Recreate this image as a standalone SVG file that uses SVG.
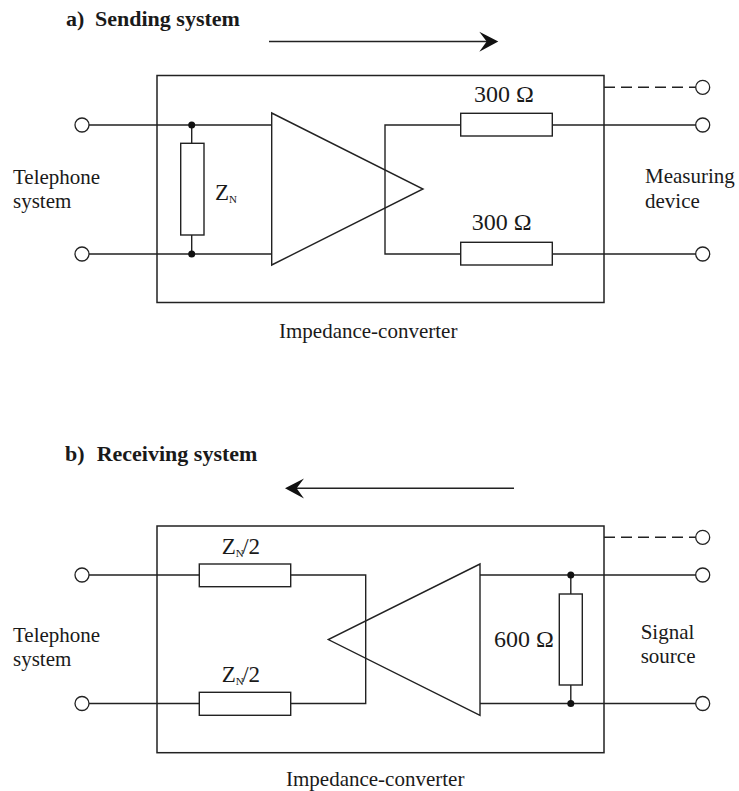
<svg xmlns="http://www.w3.org/2000/svg" width="739" height="791" viewBox="0 0 739 791">
<defs>
<style>
.w{fill:none;stroke:#222;stroke-width:1.4}
.box{fill:none;stroke:#222;stroke-width:1.5}
.res{fill:#fff;stroke:#222;stroke-width:1.4}
.term{fill:#fff;stroke:#222;stroke-width:1.3}
.dot{fill:#111}
.dash{fill:none;stroke:#222;stroke-width:1.4;stroke-dasharray:11 6}
.t{font-family:"Liberation Serif","Times New Roman",serif;font-size:21px;fill:#1a1a1a}
.v{font-family:"Liberation Serif","Times New Roman",serif;font-size:24px;fill:#1a1a1a}
.h{font-family:"Liberation Serif","Times New Roman",serif;font-size:22px;font-weight:bold;fill:#1a1a1a}
.ah{fill:#111}
</style>
</defs>
<rect width="739" height="791" fill="#fff"/>

<!-- Part a -->
<g id="title-a"><text class="h" x="66" y="26">a)</text><text class="h" x="95" y="26">Sending system</text></g>
<g id="box-a"><rect class="box" x="157" y="75.5" width="447" height="227"/></g>
<g id="amp-a"><polygon class="w" points="271.7,113 271.7,265 423,189"/></g>
<g id="zn-a"><rect class="res" x="180.7" y="143.3" width="23.3" height="91.7"/>
<text x="215" y="200" class="v" style="font-size:23px">Z<tspan dy="3" style="font-size:11px">N</tspan></text></g>
<g id="r300-top"><rect class="res" x="460.7" y="113.3" width="91.6" height="22.7"/><text class="v" x="474" y="101.7">300 Ω</text></g>
<g id="r300-bot"><rect class="res" x="460.7" y="242.3" width="91.6" height="22.7"/><text class="v" x="471.7" y="230.3">300 Ω</text></g>
<g id="terms-a-left"><circle class="term" cx="82" cy="125" r="7"/><circle class="term" cx="82" cy="254" r="7"/>
<text class="t" x="13" y="184">Telephone</text><text class="t" x="13" y="208">system</text></g>
<g id="terms-a-right"><circle class="term" cx="702.7" cy="87.3" r="7"/><circle class="term" cx="702.7" cy="125" r="7"/><circle class="term" cx="702.7" cy="254" r="7"/>
<text class="t" x="645" y="183.3">Measuring</text><text class="t" x="645" y="208.3">device</text></g>
<g id="label-a"><text class="t" x="279" y="338">Impedance-converter</text></g>

<!-- Part b -->
<g id="title-b"><text class="h" x="65" y="461">b)</text><text class="h" x="96.7" y="461">Receiving system</text></g>
<g id="box-b"><rect class="box" x="157" y="526" width="447" height="226.7"/></g>
<g id="amp-b"><polygon class="w" points="480,564 480,715.3 328.3,639.6"/></g>
<g id="zn2-top"><rect class="res" x="199.3" y="564" width="91.4" height="22.7"/>
<text x="221.7" y="553.5" class="v" style="font-size:23px">Z<tspan dy="3" style="font-size:11px">N</tspan><tspan dy="-3" dx="-1.5">/2</tspan></text></g>
<g id="zn2-bot"><rect class="res" x="199.3" y="692.3" width="91.4" height="23"/>
<text x="221.7" y="682" class="v" style="font-size:23px">Z<tspan dy="3" style="font-size:11px">N</tspan><tspan dy="-3" dx="-1.5">/2</tspan></text></g>
<g id="r600"><rect class="res" x="559.3" y="594" width="23" height="91"/><text class="v" x="494" y="646.7">600 Ω</text></g>
<g id="terms-b-left"><circle class="term" cx="82" cy="575" r="7"/><circle class="term" cx="82" cy="703.5" r="7"/>
<text class="t" x="13" y="642">Telephone</text><text class="t" x="13" y="666">system</text></g>
<g id="terms-b-right"><circle class="term" cx="702.7" cy="537.3" r="7"/><circle class="term" cx="702.7" cy="575" r="7"/><circle class="term" cx="702.7" cy="703.5" r="7"/>
<text class="t" x="640.7" y="639">Signal</text><text class="t" x="640.7" y="663">source</text></g>
<g id="label-b"><text class="t" x="286" y="786">Impedance-converter</text></g>

<!-- Connectors -->
<g id="connectors">
<!-- a -->
<path class="w" d="M269,41.5 H488"/>
<path class="ah" d="M498.3,41.5 L479.3,31.7 L486.7,41.5 L479.3,51.7 Z"/>
<path class="w" d="M89,125 H271.7 M89,254 H271.7"/>
<path class="w" d="M191.7,125 V143.3 M191.7,235 V254"/>
<circle class="dot" cx="191.7" cy="125" r="3.5"/><circle class="dot" cx="191.7" cy="254" r="3.5"/>
<path class="w" d="M460.7,125 H385 V254 H460.7"/>
<path class="w" d="M552.3,125 H695.7 M552.3,254 H695.7"/>
<path class="dash" d="M604,87.3 H695.7"/>
<!-- b -->
<path class="w" d="M295,488.3 H514"/>
<path class="ah" d="M285,488.3 L304,478.5 L296.6,488.3 L304,498.5 Z"/>
<path class="w" d="M89,575 H199.3 M89,703.5 H199.3"/>
<path class="w" d="M290.7,575 H365.7 V703.5 H290.7"/>
<path class="w" d="M480,575 H695.7 M480,703.5 H695.7"/>
<path class="w" d="M570.8,575 V594 M570.8,685 V703.5"/>
<circle class="dot" cx="570.8" cy="575" r="3.5"/><circle class="dot" cx="570.8" cy="703.5" r="3.5"/>
<path class="dash" d="M604,537.3 H695.7"/>
</g>
</svg>
